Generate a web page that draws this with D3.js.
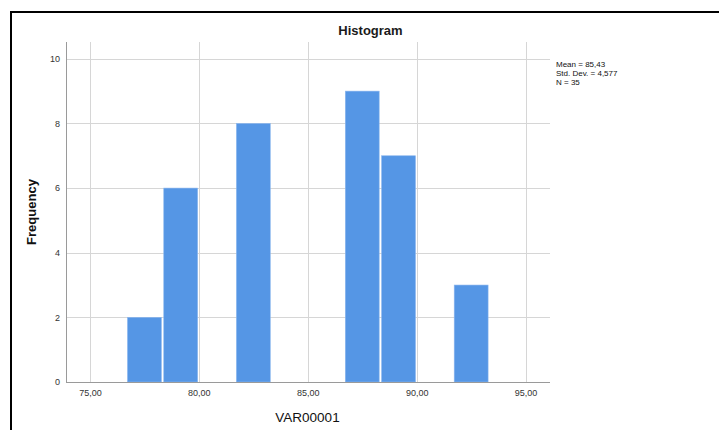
<!DOCTYPE html>
<html>
<head>
<meta charset="utf-8">
<script src="https://cdn.jsdelivr.net/npm/d3@7"></script>
<style>
  html, body { margin: 0; padding: 0; background: #fff; }
  svg { display: block; font-family: "Liberation Sans", Arial, sans-serif; }
</style>
</head>
<body>
<svg id="chart" width="719" height="430"></svg>
<script>
// ---- data ----
const binLower = [76.667, 78.333, 80.000, 81.667, 83.333, 85.000, 86.667, 88.333, 90.000, 91.667];
const binUpper = [78.333, 80.000, 81.667, 83.333, 85.000, 86.667, 88.333, 90.000, 91.667, 93.333];
const counts   = [2, 6, 0, 8, 0, 0, 9, 7, 0, 3];
const xTicks = [75, 80, 85, 90, 95];
const xTickLabels = ["75,00", "80,00", "85,00", "90,00", "95,00"];
const yTicks = [0, 2, 4, 6, 8, 10];
const xDomain = [73.9, 96.12];
const yDomain = [0, 10.52];
const statsLines = ["Mean = 85,43", "Std. Dev. = 4,577", "N = 35"];
const titleText = "Histogram";
const xLabel = "VAR00001";
const yLabel = "Frequency";

// ---- layout ----
const plot = { left: 66, right: 550, top: 42, bottom: 382 };
const svg = d3.select("#chart");

const x = d3.scaleLinear().domain(xDomain).range([plot.left, plot.right]);
const y = d3.scaleLinear().domain(yDomain).range([plot.bottom, plot.top]);

// frame
svg.append("line").attr("x1", 10).attr("x2", 719).attr("y1", 12).attr("y2", 12)
  .attr("stroke", "#000").attr("stroke-width", 2);
svg.append("line").attr("x1", 11).attr("x2", 11).attr("y1", 11).attr("y2", 430)
  .attr("stroke", "#000").attr("stroke-width", 2);

// grid
const grid = svg.append("g");
grid.selectAll("line.h").data(yTicks).join("line")
  .attr("x1", plot.left).attr("x2", plot.right)
  .attr("y1", d => Math.round(y(d)) + 0.5).attr("y2", d => Math.round(y(d)) + 0.5)
  .attr("stroke", "#d6d6d6").attr("stroke-width", 1);
grid.selectAll("line.v").data(xTicks).join("line")
  .attr("y1", plot.top).attr("y2", plot.bottom)
  .attr("x1", d => Math.round(x(d)) + 0.5).attr("x2", d => Math.round(x(d)) + 0.5)
  .attr("stroke", "#d6d6d6").attr("stroke-width", 1);

// bars
const bins = counts.map((c, i) => ({ x0: binLower[i], x1: binUpper[i], n: c })).filter(d => d.n > 0);
const inset = 1.2;
svg.append("g").selectAll("rect").data(bins).join("rect")
  .attr("x", d => x(d.x0) + inset)
  .attr("width", d => x(d.x1) - x(d.x0) - 2 * inset)
  .attr("y", d => y(d.n))
  .attr("height", d => y(0) - y(d.n))
  .attr("fill", "#5596e5")
  .attr("stroke", "#8cb7ee").attr("stroke-width", 0.6);

// axes
const xAxis = d3.axisBottom(x).tickValues(xTicks).tickFormat((d, i) => xTickLabels[i]).tickSize(0).tickPadding(8);
const gx = svg.append("g").attr("transform", `translate(0,${plot.bottom})`).call(xAxis);
gx.select(".domain").remove();
gx.selectAll("text").attr("font-size", 9).attr("fill", "#333").attr("font-family", "Liberation Sans, Arial, sans-serif");

const yAxis = d3.axisLeft(y).tickValues(yTicks).tickSize(0).tickPadding(6);
const gy = svg.append("g").attr("transform", `translate(${plot.left},0)`).call(yAxis);
gy.select(".domain").remove();
gy.selectAll("text").attr("font-size", 9).attr("fill", "#333").attr("font-family", "Liberation Sans, Arial, sans-serif");

// axis lines
svg.append("line").attr("x1", plot.left + 0.5).attr("x2", plot.left + 0.5)
  .attr("y1", plot.top).attr("y2", plot.bottom + 1)
  .attr("stroke", "#9a9a9a").attr("stroke-width", 1);
svg.append("line").attr("x1", plot.left).attr("x2", plot.right)
  .attr("y1", plot.bottom + 0.5).attr("y2", plot.bottom + 0.5)
  .attr("stroke", "#9a9a9a").attr("stroke-width", 1);

// title
svg.append("text").attr("x", 370.5).attr("y", 35).attr("text-anchor", "middle")
  .attr("font-size", 13).attr("font-weight", "bold").attr("fill", "#1a1a1a").text(titleText);

// axis labels
svg.append("text").attr("x", 307.5).attr("y", 421.5).attr("text-anchor", "middle")
  .attr("font-size", 13.5).attr("fill", "#111").text(xLabel);
svg.append("text").attr("transform", "translate(35.5,212) rotate(-90)").attr("text-anchor", "middle")
  .attr("font-size", 13).attr("font-weight", "bold").attr("fill", "#111").text(yLabel);

// stats
svg.append("g").selectAll("text").data(statsLines).join("text")
  .attr("x", 556).attr("y", (d, i) => 66.5 + i * 9.3)
  .attr("font-size", 8).attr("textLength", null)
  .attr("fill", "#111").text(d => d);
</script>
</body>
</html>
